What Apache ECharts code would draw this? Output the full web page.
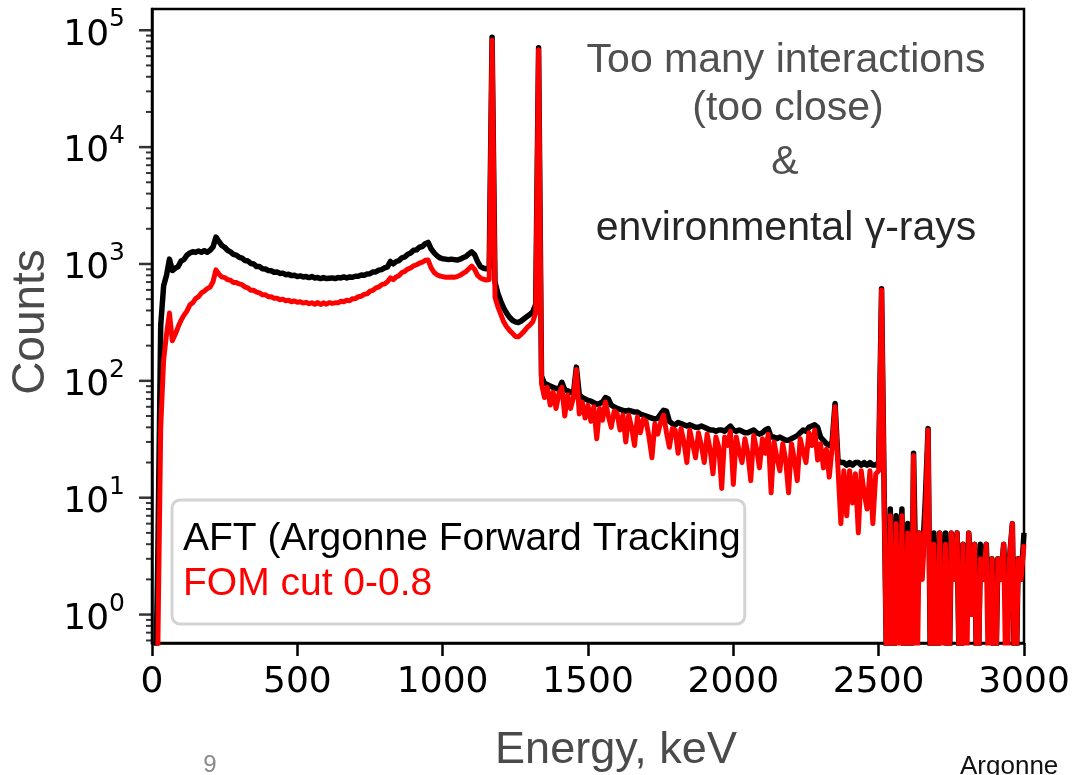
<!DOCTYPE html>
<html><head><meta charset="utf-8">
<script src="https://cdn.jsdelivr.net/npm/echarts@6/dist/echarts.min.js"></script>
<style>html,body{margin:0;padding:0;background:#fff}#c{width:1074px;height:775px}</style>
</head><body><div id="c"></div>
<script>
// Energy bins: 10 keV wide, starting at 0 keV (301 bins, 0..3000 keV)
const energyStep = 10;
const seriesNames = ['AFT (Argonne Forward Tracking', 'FOM cut 0-0.8'];

// Counts per bin, AFT (black)
const aftCounts = [
  0, 0, 3, 300, 650, 800, 1100, 880, 920, 950,
  1060, 1090, 1190, 1240, 1270, 1260, 1290, 1260, 1300, 1260,
  1310, 1400, 1700, 1560, 1440, 1390, 1310, 1270, 1210, 1190,
  1140, 1120, 1070, 1060, 1010, 1000, 950, 950, 910, 905,
  880, 875, 850, 855, 830, 835, 810, 815, 795, 800,
  780, 790, 775, 780, 765, 780, 760, 765, 750, 765,
  750, 755, 760, 750, 765, 760, 775, 758, 775, 770,
  785, 785, 805, 800, 820, 825, 855, 855, 885, 895,
  925, 945, 1050, 1000, 1050, 1070, 1130, 1150, 1210, 1240,
  1310, 1320, 1390, 1410, 1490, 1530, 1350, 1250, 1180, 1130,
  1110, 1100, 1090, 1100, 1090, 1080, 1100, 1130, 1160, 1220,
  1270, 1200, 1050, 950, 920, 910, 920, 87000, 700, 560,
  480, 420, 380, 350, 330, 320, 315, 325, 340, 355,
  370, 390, 450, 70800, 110, 95, 93, 90, 88, 86,
  85, 97, 84, 82, 80, 78, 131, 76, 72, 70,
  68, 67, 65, 63, 64, 66, 72, 70, 62, 60,
  58, 57, 56, 55, 56, 55, 54, 54, 52, 51,
  50, 49, 48, 47, 48, 52, 56, 55, 45, 43,
  42, 44, 43, 42, 41, 42, 41, 40, 40, 41,
  40, 39, 38, 38, 37, 38, 38, 37, 39, 41,
  38, 37, 38, 37, 36, 36, 37, 38, 36, 35,
  36, 38, 39, 33, 33, 32, 33, 32, 31, 31,
  32, 33, 34, 36, 38, 37, 40, 41, 42, 40,
  33, 31, 29, 28, 30, 64, 21, 20, 20, 19,
  20, 19, 20, 20, 19, 20, 19, 20, 19, 19,
  20, 615, 7, 0, 8, 0, 7, 1, 8, 0,
  6, 0, 24, 1, 5, 3, 9, 39, 0, 5,
  0, 5, 1, 5, 0, 5, 3, 5, 0, 4,
  1, 5, 2, 4, 0, 4, 2, 4, 1, 3,
  0, 3, 2, 4, 1, 3, 6, 0, 3, 2,
  5
];

// Counts per bin, FOM cut 0-0.8 (red)
const fomCounts = [
  0, 0, 0.5, 40, 150, 250, 380, 220, 250, 290,
  330, 365, 395, 445, 465, 505, 525, 565, 585, 615,
  635, 705, 890, 820, 775, 765, 735, 725, 695, 695,
  675, 665, 635, 625, 595, 595, 575, 565, 545, 545,
  525, 525, 510, 510, 495, 500, 485, 490, 475, 482,
  470, 475, 463, 470, 457, 465, 452, 468, 450, 465,
  453, 467, 460, 465, 465, 480, 475, 490, 485, 505,
  505, 525, 530, 550, 555, 585, 595, 625, 635, 665,
  675, 705, 760, 735, 775, 795, 845, 865, 905, 925,
  965, 985, 1015, 1035, 1075, 1080, 930, 850, 810, 790,
  780, 770, 770, 775, 770, 780, 800, 830, 860, 910,
  960, 900, 800, 760, 740, 730, 735, 82000, 520, 430,
  370, 320, 290, 270, 255, 240, 238, 250, 265, 285,
  300, 320, 380, 68000, 95, 72, 88, 62, 80, 58,
  78, 88, 50, 76, 58, 72, 125, 52, 66, 48,
  62, 45, 60, 32, 58, 46, 66, 50, 40, 55,
  53, 38, 51, 30, 51, 40, 28, 49, 36, 47,
  45, 33, 22, 43, 35, 44, 51, 36, 27, 39,
  38, 24, 39, 30, 20, 38, 29, 22, 36, 28,
  20, 35, 26, 16, 33, 27, 12, 33, 28, 37,
  13, 33, 25, 20, 32, 24, 14, 34, 26, 18,
  32, 24, 35, 11, 30, 22, 17, 29, 21, 11,
  29, 21, 14, 32, 25, 20, 36, 28, 38, 21,
  29, 18, 26, 15, 27, 60, 18, 6, 17, 7,
  17, 9, 16, 5, 17, 11, 8, 17, 6, 16,
  17, 600, 6, 0, 7, 0, 6, 0, 7, 0,
  5, 0, 23, 0, 5, 2, 6, 38, 0, 4,
  0, 5, 0, 4, 0, 5, 2, 5, 0, 4,
  0, 5, 1, 4, 0, 3, 2, 4, 0, 3,
  0, 3, 2, 4, 0, 3, 6, 0, 3, 2,
  4
];

const xTickValues = [0, 500, 1000, 1500, 2000, 2500, 3000];
const yMajorTickValues = [1, 10, 100, 1000, 10000, 100000];
const yMinorMultipliers = [2, 3, 4, 5, 6, 7, 8, 9];
const yMin = 0.571, yMax = 152000;
const ZERO_FLOOR = 0.1; // empty bins drawn below the axis floor (log scale)

const yMinorTickValues = [];
[0.1, 1, 10, 100, 1000, 10000, 100000].forEach(d => yMinorMultipliers.forEach(m => {
  const v = +(d * m).toPrecision(3);
  if (v > yMin && v < yMax) yMinorTickValues.push(v);
}));

const toPairs = arr => arr.map((v, i) => [i * energyStep, v > 0 ? v : ZERO_FLOOR]);
const isPow10 = v => Math.abs(Math.log10(v) - Math.round(Math.log10(v))) < 1e-6;

const chart = echarts.init(document.getElementById('c'), null, {renderer: 'canvas'});
chart.setOption({
  animation: false,
  backgroundColor: '#fff',
  grid: {left: 152, right: 50, top: 9, bottom: 132, show: true, borderColor: '#000', borderWidth: 2.5,
         containLabel: false, outerBoundsMode: 'none'},
  xAxis: {
    type: 'value', min: xTickValues[0], max: xTickValues[xTickValues.length - 1], interval: 500,
    axisLine: {show: true, lineStyle: {color: '#000', width: 2.5}},
    axisTick: {show: true, length: 13, lineStyle: {color: '#000', width: 2.5}},
    splitLine: {show: false},
    axisLabel: {color: '#000', fontFamily: 'DejaVu Sans', fontSize: 36, margin: 22, formatter: v => String(v)}
  },
  yAxis: {
    type: 'log', logBase: 10, min: yMin, max: yMax,
    axisLine: {show: true, lineStyle: {color: '#000', width: 2.5}},
    axisTick: {show: false},
    splitLine: {show: false},
    minorTick: {show: false},
    axisLabel: {
      margin: 27,
      formatter: v => isPow10(v) ? '{b|10}{s|' + Math.round(Math.log10(v)) + '}' : '',
      rich: {
        b: {fontFamily: 'DejaVu Sans', fontSize: 36, color: '#000', lineHeight: 46, verticalAlign: 'bottom'},
        s: {fontFamily: 'DejaVu Sans', fontSize: 25, color: '#000', lineHeight: 27, verticalAlign: 'top'}
      }
    }
  },
  legend: {
    left: 172, top: 500, orient: 'vertical', selectedMode: false,
    padding: [17, 4, 17, 6], itemGap: 0, itemWidth: 0, itemHeight: 0, icon: 'rect',
    itemStyle: {opacity: 0}, lineStyle: {opacity: 0},
    backgroundColor: '#fff', borderColor: '#d3d3d3', borderWidth: 3, borderRadius: 8,
    textStyle: {fontFamily: 'Liberation Sans', fontSize: 39, lineHeight: 45},
    data: [
      {name: seriesNames[0], textStyle: {color: '#000'}},
      {name: seriesNames[1], textStyle: {color: '#ff0000'}}
    ]
  },
  series: [
    {name: seriesNames[0], type: 'line', data: toPairs(aftCounts), symbol: 'none', showSymbol: false,
     clip: true, lineStyle: {color: '#000', width: 5.5, join: 'round'}, itemStyle: {color: '#000'}, z: 2},
    {name: seriesNames[1], type: 'line', data: toPairs(fomCounts), symbol: 'none', showSymbol: false,
     clip: true, lineStyle: {color: '#ff0000', width: 5, join: 'round'}, itemStyle: {color: '#ff0000'}, z: 3},
    {name: 'yMajorTicks', type: 'scatter', data: yMajorTickValues.map(v => [0, v]), symbol: 'rect',
     symbolSize: [13, 2.5], symbolOffset: [-6.5, 0], itemStyle: {color: '#000'}, clip: false, silent: true, z: 5},
    {name: 'yMinorTicks', type: 'scatter', data: yMinorTickValues.map(v => [0, v]), symbol: 'rect',
     symbolSize: [6, 2], symbolOffset: [-3, 0], itemStyle: {color: '#000'}, clip: false, silent: true, z: 5}
  ],
  graphic: [
    {type: 'text', x: 31, y: 322, rotation: Math.PI / 2,
     style: {text: 'Counts', font: '46px "Liberation Sans"', fill: '#4a4a4a', align: 'center', verticalAlign: 'middle'}},
    {type: 'text', x: 616, y: 751,
     style: {text: 'Energy, keV', font: '45px "Liberation Sans"', fill: '#4a4a4a', align: 'center', verticalAlign: 'middle'}},
    {type: 'text', x: 786, y: 61,
     style: {text: 'Too many interactions', font: '41px "Liberation Sans"', fill: '#505050', align: 'center', verticalAlign: 'middle'}},
    {type: 'text', x: 788, y: 109,
     style: {text: '(too close)', font: '41px "Liberation Sans"', fill: '#505050', align: 'center', verticalAlign: 'middle'}},
    {type: 'text', x: 785, y: 163,
     style: {text: '&', font: '41px "Liberation Sans"', fill: '#505050', align: 'center', verticalAlign: 'middle'}},
    {type: 'text', x: 786, y: 229,
     style: {text: 'environmental \u03b3-rays', font: '41px "Liberation Sans"', fill: '#262626', align: 'center', verticalAlign: 'middle'}},
    {type: 'text', x: 210, y: 765,
     style: {text: '9', font: '24px "Liberation Sans"', fill: '#8a8a8a', align: 'center', verticalAlign: 'middle'}},
    {type: 'text', x: 960, y: 767,
     style: {text: 'Argonne', font: '26px "Liberation Sans"', fill: '#111', align: 'left', verticalAlign: 'middle'}}
  ]
});
</script></body></html>
